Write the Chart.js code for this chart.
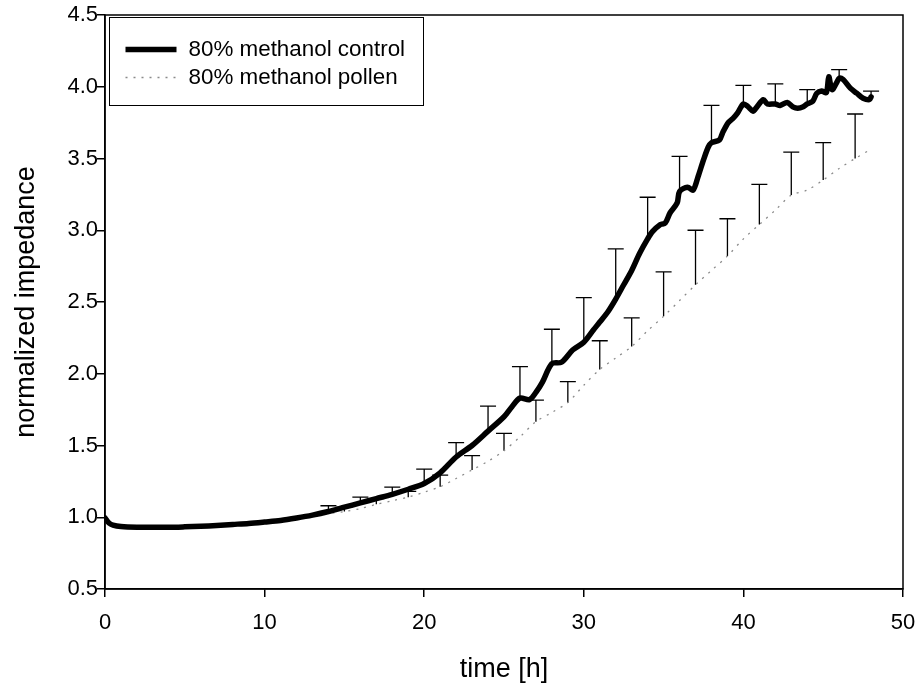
<!DOCTYPE html>
<html>
<head>
<meta charset="utf-8">
<script src="https://cdn.jsdelivr.net/npm/chart.js@4"></script>
<style>
  body { margin: 0; background: #fff; }
  canvas { display: block; }
</style>
</head>
<body>
<canvas id="impChart" width="917" height="686" style="width:917px;height:686px"></canvas>
<script>
// time [h] and normalized impedance
const controlTime = [0, 0.25, 0.5, 1, 2, 3, 4, 5, 6, 7, 8, 9, 10, 11, 12, 13, 14, 15, 16, 17, 18, 19, 20, 21, 22, 23, 24, 25, 25.5, 26, 26.6, 27, 27.4, 28, 28.6, 29.3, 30, 30.6, 31, 31.5, 32, 32.5, 33, 33.5, 34, 34.3, 34.8, 35.1, 35.4, 35.85, 36, 36.5, 36.85, 37.15, 37.5, 37.8, 38, 38.5, 38.7, 39.05, 39.35, 39.65, 40, 40.3, 40.6, 40.85, 41.25, 41.5, 42, 42.3, 42.75, 43.1, 43.4, 43.75, 44, 44.35, 44.6, 44.9, 45.2, 45.35, 45.55, 45.85, 46, 46.25, 46.7, 47.1, 47.5, 47.9, 48];
const controlValue = [0.995, 0.96, 0.945, 0.935, 0.93, 0.93, 0.93, 0.933, 0.937, 0.943, 0.95, 0.957, 0.967, 0.978, 0.995, 1.015, 1.04, 1.07, 1.10, 1.13, 1.16, 1.195, 1.235, 1.31, 1.42, 1.50, 1.60, 1.70, 1.77, 1.83, 1.82, 1.87, 1.94, 2.07, 2.08, 2.165, 2.22, 2.305, 2.36, 2.43, 2.52, 2.62, 2.72, 2.84, 2.94, 2.99, 3.04, 3.05, 3.12, 3.19, 3.27, 3.30, 3.28, 3.37, 3.49, 3.58, 3.61, 3.63, 3.68, 3.75, 3.78, 3.82, 3.88, 3.86, 3.83, 3.86, 3.91, 3.88, 3.88, 3.87, 3.89, 3.86, 3.85, 3.86, 3.88, 3.90, 3.955, 3.97, 3.96, 4.07, 3.98, 4.03, 4.06, 4.05, 3.99, 3.955, 3.92, 3.91, 3.93];

const pollenTime = [0, 0.25, 0.5, 1, 2, 3, 4, 5, 6, 7, 8, 9, 10, 11, 12, 13, 14, 15, 16, 17, 18, 19, 20, 21, 22, 23, 24, 25, 26, 27, 28, 29, 30, 31, 32, 33, 34, 35, 36, 37, 38, 39, 40, 41, 42, 43, 44, 45, 46, 47, 48];
const pollenValue = [1.0, 0.96, 0.945, 0.935, 0.93, 0.93, 0.932, 0.935, 0.938, 0.943, 0.95, 0.96, 0.97, 0.98, 0.995, 1.01, 1.025, 1.04, 1.06, 1.09, 1.115, 1.14, 1.175, 1.213, 1.27, 1.33, 1.39, 1.464, 1.56, 1.666, 1.73, 1.80, 1.92, 2.03, 2.11, 2.19, 2.30, 2.40, 2.51, 2.62, 2.72, 2.82, 2.94, 3.04, 3.14, 3.245, 3.28, 3.35, 3.43, 3.50, 3.565];

// upper error bars (SD) at selected times
const controlBarTime = [14, 16, 18, 20, 22, 24, 26, 28, 30, 32, 34, 36, 38, 40, 42, 44, 46, 48];
const controlBarSd = [0.04, 0.04, 0.05, 0.10, 0.10, 0.175, 0.22, 0.24, 0.31, 0.35, 0.29, 0.245, 0.26, 0.13, 0.14, 0.10, 0.06, 0.04];
const pollenBarTime = [15, 17, 19, 21, 23, 25, 27, 29, 31, 33, 35, 37, 39, 41, 43, 45, 47];
const pollenBarSd = [0.03, 0.04, 0.04, 0.08, 0.10, 0.12, 0.15, 0.145, 0.20, 0.20, 0.31, 0.38, 0.26, 0.28, 0.30, 0.26, 0.31];

const xTicks = [0, 10, 20, 30, 40, 50];
const yTicks = [0.5, 1.0, 1.5, 2.0, 2.5, 3.0, 3.5, 4.0, 4.5];

const seriesLabels = ['80% methanol control', '80% methanol pollen'];

const FONT = "'Liberation Sans', Arial, sans-serif";

function toPoints(ts, vs) {
  return ts.map((t, i) => ({ x: t, y: vs[i] }));
}

// error bars drawn from the line value up to mean + sd
const errorBars = {
  id: 'errorBars',
  beforeDatasetsDraw(chart) {
    const ctx = chart.ctx;
    const xs = chart.scales.x, ys = chart.scales.y;
    const sets = [
      [controlBarTime, controlBarSd, controlTime, controlValue],
      [pollenBarTime, pollenBarSd, pollenTime, pollenValue]
    ];
    ctx.save();
    ctx.strokeStyle = '#000';
    ctx.lineWidth = 1.3;
    sets.forEach(([bt, sd, lt, lv]) => {
      bt.forEach((t, i) => {
        const mean = lv[lt.indexOf(t)];
        const px = xs.getPixelForValue(t);
        const y0 = ys.getPixelForValue(mean);
        const y1 = ys.getPixelForValue(mean + sd[i]);
        ctx.beginPath();
        ctx.moveTo(px, y0);
        ctx.lineTo(px, y1);
        ctx.moveTo(px - 8, y1);
        ctx.lineTo(px + 8, y1);
        ctx.stroke();
      });
    });
    ctx.restore();
  }
};

// box around plot + legend
const frameAndLegend = {
  id: 'frameAndLegend',
  afterDraw(chart) {
    const ctx = chart.ctx;
    const a = chart.chartArea;
    ctx.save();
    ctx.strokeStyle = '#000';
    ctx.lineWidth = 1.5;
    ctx.strokeRect(a.left, a.top, a.right - a.left, a.bottom - a.top);

    const lx = a.left + 4.5, ly = a.top + 2.5;
    ctx.lineWidth = 1;
    ctx.strokeRect(lx, ly, 314, 88);

    const ds = chart.data.datasets;
    ctx.font = '22.4px ' + FONT;
    ctx.fillStyle = '#000';
    ctx.textBaseline = 'middle';
    ds.forEach((d, i) => {
      const yy = ly + 32 + i * 28;
      ctx.beginPath();
      ctx.strokeStyle = d.borderColor;
      ctx.lineWidth = d.borderWidth;
      ctx.setLineDash(d.borderDash || []);
      ctx.moveTo(lx + 16, yy);
      ctx.lineTo(lx + 67, yy);
      ctx.stroke();
      ctx.setLineDash([]);
      ctx.fillText(d.label, lx + 79, yy);
    });
    ctx.restore();
  }
};

new Chart(document.getElementById('impChart'), {
  type: 'line',
  data: {
    datasets: [{
        label: seriesLabels[0],
        data: toPoints(controlTime, controlValue),
        borderColor: '#000',
        borderWidth: 5.5,
        pointRadius: 0,
        tension: 0.3,
        borderCapStyle: 'round',
        borderJoinStyle: 'round',
        order: 0
      },
      {
        label: seriesLabels[1],
        data: toPoints(pollenTime, pollenValue),
        borderColor: '#8a8a8a',
        borderWidth: 1.3,
        borderDash: [2, 6],
        pointRadius: 0,
        tension: 0.3,
        order: 1
      }
    ]
  },
  options: {
    responsive: false,
    animation: false,
    layout: {
      padding: { left: 0, right: 14, top: 15, bottom: 0 }
    },
    scales: {
      x: {
        type: 'linear',
        min: 0,
        max: 50,
        afterBuildTicks: s => { s.ticks = xTicks.map(v => ({ value: v })); },
        afterFit: s => { s.height = 97; s.paddingLeft = 0; s.paddingRight = 0; },
        ticks: {
          color: '#000',
          font: { family: FONT, size: 22 },
          padding: 13,
          maxRotation: 0,
          callback: v => String(v)
        },
        grid: { drawOnChartArea: false, tickLength: 8, color: '#000', lineWidth: 1.5 },
        border: { color: '#000', width: 1.5 },
        title: {
          display: true,
          text: 'time [h]',
          color: '#000',
          font: { family: FONT, size: 27 },
          padding: { top: 5, bottom: 0 }
        }
      },
      y: {
        min: 0.5,
        max: 4.5,
        afterBuildTicks: s => { s.ticks = yTicks.map(v => ({ value: v })); },
        afterFit: s => { s.width = 105; s.paddingTop = 0; s.paddingBottom = 0; },
        ticks: {
          color: '#000',
          font: { family: FONT, size: 22 },
          padding: -1,
          callback: v => v.toFixed(1)
        },
        grid: { drawOnChartArea: false, tickLength: 8, color: '#000', lineWidth: 1.5 },
        border: { color: '#000', width: 1.5 },
        title: {
          display: true,
          text: 'normalized impedance',
          color: '#000',
          font: { family: FONT, size: 27 },
          padding: { top: 10, bottom: 0 }
        }
      }
    },
    plugins: {
      legend: { display: false },
      tooltip: { enabled: false }
    }
  },
  plugins: [errorBars, frameAndLegend]
});
</script>
</body>
</html>
